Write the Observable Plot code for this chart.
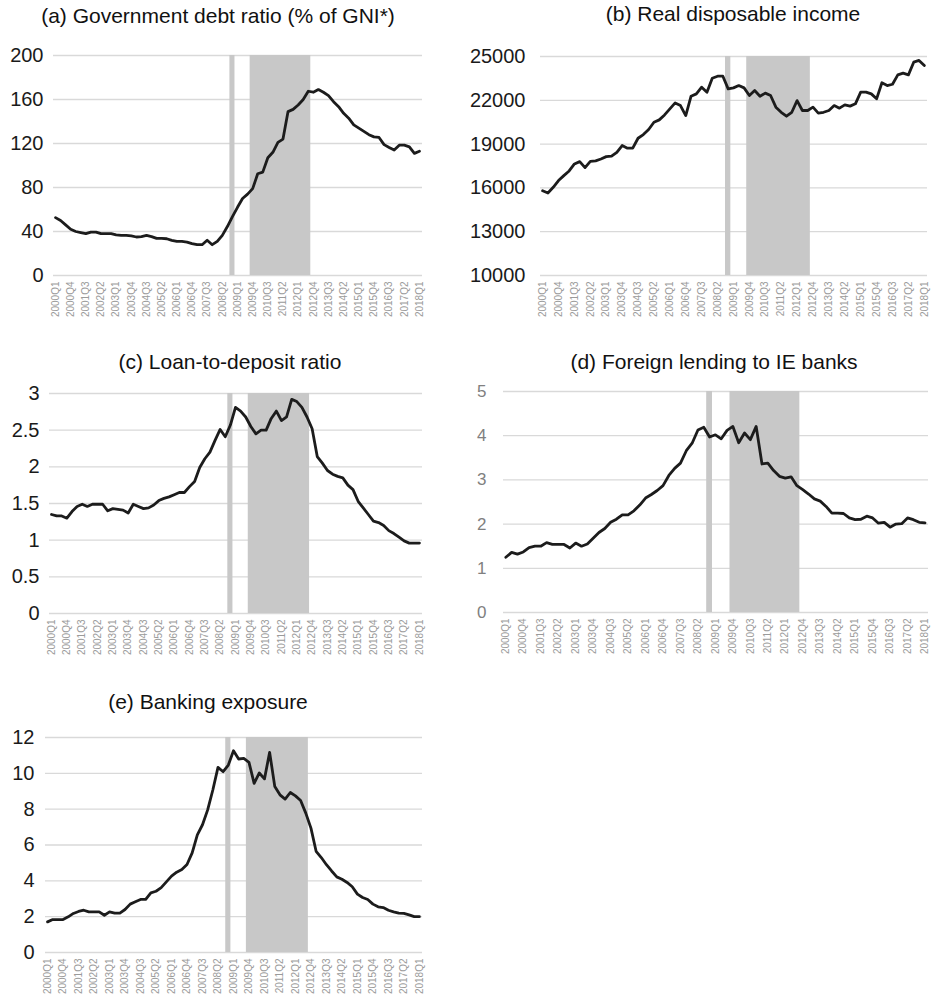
<!DOCTYPE html>
<html>
<head>
<meta charset="utf-8">
<script src="https://cdn.jsdelivr.net/npm/d3@7"></script>
<script src="https://cdn.jsdelivr.net/npm/@observablehq/plot@0.6"></script>
<style>
  body { margin: 0; background: #fff; }
  #page { position: relative; width: 933px; height: 1000px; overflow: hidden;
          font-family: "Liberation Sans", Arial, Helvetica, sans-serif; }
  .title { position: absolute; width: 440px; text-align: center; font-size: 21px;
           line-height: 21px; color: #111; white-space: nowrap; }
  .panel { position: absolute; }
  .panel svg { overflow: visible; }
</style>
</head>
<body>
<div id="page"></div>
<script>
// Quarterly observations, 2000Q1 to 2018Q1
const quarters = [];
for (let y = 2000; y <= 2018; y++) for (let q = 1; q <= 4; q++) quarters.push(`${y}Q${q}`);
quarters.length = 73;

// Every third quarter gets a tick label
const xTickLabels = quarters.filter((_, i) => i % 3 === 0);

// Shaded crisis periods
const crisisPeriods = [
  { start: "2008Q4", end: "2008Q4" },
  { start: "2009Q4", end: "2012Q3" }
];

// (a) Government debt ratio (% of GNI*)
const debtRatio = [52.6, 50, 46, 42, 40, 39, 38, 39.5, 39.5, 38,
  38, 38, 37, 36.5, 36.5, 36, 35, 35.3, 36.5, 35.3,
  33.7, 33.7, 33.4, 32, 31, 31, 30.4, 29, 28, 28,
  32, 28, 31, 36.5, 44.5, 53.5, 62, 70, 74, 79,
  92.5, 94, 107, 112, 121, 124, 149, 151, 155, 160,
  167.5, 166.6, 169, 166.6, 163.5, 158, 153.5, 147.4, 143, 137,
  134, 131, 128, 126, 125.5, 119, 116.4, 114, 118.5, 118.5,
  117, 111, 113];

// (b) Real disposable income
const disposableIncome = [15800, 15650, 16040, 16500, 16840, 17160, 17640, 17800, 17390, 17820,
  17850, 17980, 18140, 18170, 18440, 18900, 18720, 18720, 19400, 19650,
  20000, 20500, 20660, 21000, 21410, 21820, 21640, 20950, 22280, 22440,
  22900, 22550, 23510, 23650, 23650, 22780, 22850, 23010, 22850, 22330,
  22670, 22280, 22490, 22330, 21530, 21180, 20910, 21180, 21980, 21300,
  21300, 21530, 21120, 21180, 21300, 21640, 21460, 21690, 21600, 21760,
  22560, 22560, 22440, 22100, 23200, 23010, 23100, 23740, 23860, 23740,
  24610, 24730, 24380];

// (c) Loan-to-deposit ratio
const loanToDeposit = [1.35, 1.33, 1.33, 1.30, 1.39, 1.46, 1.49, 1.46, 1.49, 1.49,
  1.49, 1.40, 1.43, 1.42, 1.41, 1.37, 1.49, 1.46, 1.43, 1.44,
  1.48, 1.54, 1.57, 1.59, 1.62, 1.65, 1.65, 1.73, 1.80, 1.99,
  2.11, 2.20, 2.36, 2.51, 2.41, 2.57, 2.81, 2.76, 2.68, 2.55,
  2.45, 2.50, 2.50, 2.66, 2.76, 2.63, 2.68, 2.92, 2.89, 2.81,
  2.68, 2.52, 2.14, 2.05, 1.95, 1.90, 1.87, 1.85, 1.75, 1.69,
  1.53, 1.44, 1.35, 1.26, 1.24, 1.20, 1.13, 1.09, 1.04, 0.99,
  0.96, 0.96, 0.96];

// (d) Foreign lending to IE banks
const foreignLending = [1.25, 1.36, 1.32, 1.37, 1.47, 1.50, 1.50, 1.58, 1.54, 1.54,
  1.54, 1.46, 1.57, 1.50, 1.55, 1.68, 1.81, 1.90, 2.04, 2.11,
  2.21, 2.21, 2.30, 2.43, 2.59, 2.67, 2.76, 2.87, 3.10, 3.26,
  3.38, 3.66, 3.83, 4.13, 4.19, 3.97, 4.02, 3.93, 4.12, 4.21,
  3.84, 4.06, 3.91, 4.21, 3.36, 3.38, 3.21, 3.08, 3.04, 3.07,
  2.87, 2.78, 2.68, 2.57, 2.52, 2.40, 2.25, 2.25, 2.24, 2.14,
  2.10, 2.11, 2.18, 2.14, 2.02, 2.04, 1.93, 2.00, 2.01, 2.14,
  2.10, 2.04, 2.03];

// (e) Banking exposure
const bankingExposure = [1.71, 1.84, 1.84, 1.84, 1.99, 2.18, 2.29, 2.36, 2.27, 2.27,
  2.27, 2.08, 2.27, 2.20, 2.20, 2.40, 2.70, 2.83, 2.96, 2.96,
  3.33, 3.42, 3.62, 3.94, 4.26, 4.48, 4.63, 4.91, 5.56, 6.57,
  7.13, 7.96, 9.07, 10.33, 10.09, 10.46, 11.26, 10.80, 10.83, 10.61,
  9.44, 10.02, 9.69, 11.17, 9.26, 8.80, 8.56, 8.93, 8.74, 8.48,
  7.78, 6.94, 5.65, 5.30, 4.90, 4.55, 4.22, 4.09, 3.91, 3.67,
  3.26, 3.07, 2.96, 2.70, 2.55, 2.51, 2.36, 2.27, 2.20, 2.18,
  2.10, 2.00, 2.00];

// Y-axis ticks per panel
const debtTicks = [0, 40, 80, 120, 160, 200];
const incomeTicks = [10000, 13000, 16000, 19000, 22000, 25000];
const ldrTicks = [0, 0.5, 1, 1.5, 2, 2.5, 3];
const lendingTicks = [0, 1, 2, 3, 4, 5];
const exposureTicks = [0, 2, 4, 6, 8, 10, 12];

const panels = [
  { title: "(a) Government debt ratio (% of GNI*)", values: debtRatio, yTicks: debtTicks,
    left: 0, top: 40, width: 466, height: 290, mL: 53, mR: 44, mT: 15, mB: 55,
    yPad: 10, yFont: 20, yColor: "#1a1a1a", titleCx: 218, titleTop: 5 },
  { title: "(b) Real disposable income", values: disposableIncome, yTicks: incomeTicks,
    left: 466, top: 40, width: 467, height: 290, mL: 74, mR: 6, mT: 16, mB: 55,
    yPad: 15, yFont: 20, yColor: "#1a1a1a", titleCx: 733, titleTop: 3 },
  { title: "(c) Loan-to-deposit ratio", values: loanToDeposit, yTicks: ldrTicks,
    left: 0, top: 375, width: 466, height: 290, mL: 49, mR: 44, mT: 18, mB: 52,
    yPad: 10, yFont: 20, yColor: "#1a1a1a", titleCx: 230, titleTop: 351 },
  { title: "(d) Foreign lending to IE banks", values: foreignLending, yTicks: lendingTicks,
    left: 466, top: 375, width: 467, height: 290, mL: 37, mR: 5, mT: 16, mB: 53,
    yPad: 17, yFont: 17, yColor: "#808080", titleCx: 714, titleTop: 351 },
  { title: "(e) Banking exposure", values: bankingExposure, yTicks: exposureTicks,
    left: 0, top: 715, width: 466, height: 285, mL: 45, mR: 44, mT: 22, mB: 48,
    yPad: 11, yFont: 20, yColor: "#1a1a1a", titleCx: 208, titleTop: 691 }
];

const page = document.getElementById("page");
const tickIndex = xTickLabels.map(q => quarters.indexOf(q));

for (const p of panels) {
  const series = p.values.map((v, i) => ({ i, q: quarters[i], v }));
  const yMin = p.yTicks[0];
  const yMax = p.yTicks[p.yTicks.length - 1];

  const chart = Plot.plot({
    width: p.width,
    height: p.height,
    marginLeft: p.mL,
    marginRight: p.mR,
    marginTop: p.mT,
    marginBottom: p.mB,
    style: { fontFamily: '"Liberation Sans", Arial, Helvetica, sans-serif', background: "transparent" },
    x: { domain: [-0.4, 72.6] },
    y: { domain: [yMin, yMax] },
    marks: [
      Plot.ruleY(p.yTicks, { stroke: "#d9d9d9", strokeWidth: 1.3 }),
      Plot.rect(crisisPeriods, {
        x1: d => quarters.indexOf(d.start) - 0.5,
        x2: d => quarters.indexOf(d.end) + 0.5,
        y1: yMin, y2: yMax, fill: "#c8c8c8"
      }),
      Plot.line(series, { x: "i", y: "v", stroke: "#1c1c1c", strokeWidth: 2.8,
        strokeLinejoin: "round", strokeLinecap: "round" }),
      Plot.axisX(tickIndex, { tickFormat: i => quarters[i], tickRotate: -90, tickSize: 0,
        tickPadding: 6, fontSize: 10, fill: "#9a9a9a", label: null }),
      Plot.axisY(p.yTicks, { tickFormat: d => String(d), tickSize: 0, tickPadding: p.yPad,
        fontSize: p.yFont, fill: p.yColor, label: null })
    ]
  });

  const wrap = document.createElement("div");
  wrap.className = "panel";
  wrap.style.left = p.left + "px";
  wrap.style.top = p.top + "px";
  wrap.appendChild(chart);
  page.appendChild(wrap);

  const title = document.createElement("div");
  title.className = "title";
  title.textContent = p.title;
  title.style.left = (p.titleCx - 220) + "px";
  title.style.top = p.titleTop + "px";
  page.appendChild(title);
}
</script>
</body>
</html>
